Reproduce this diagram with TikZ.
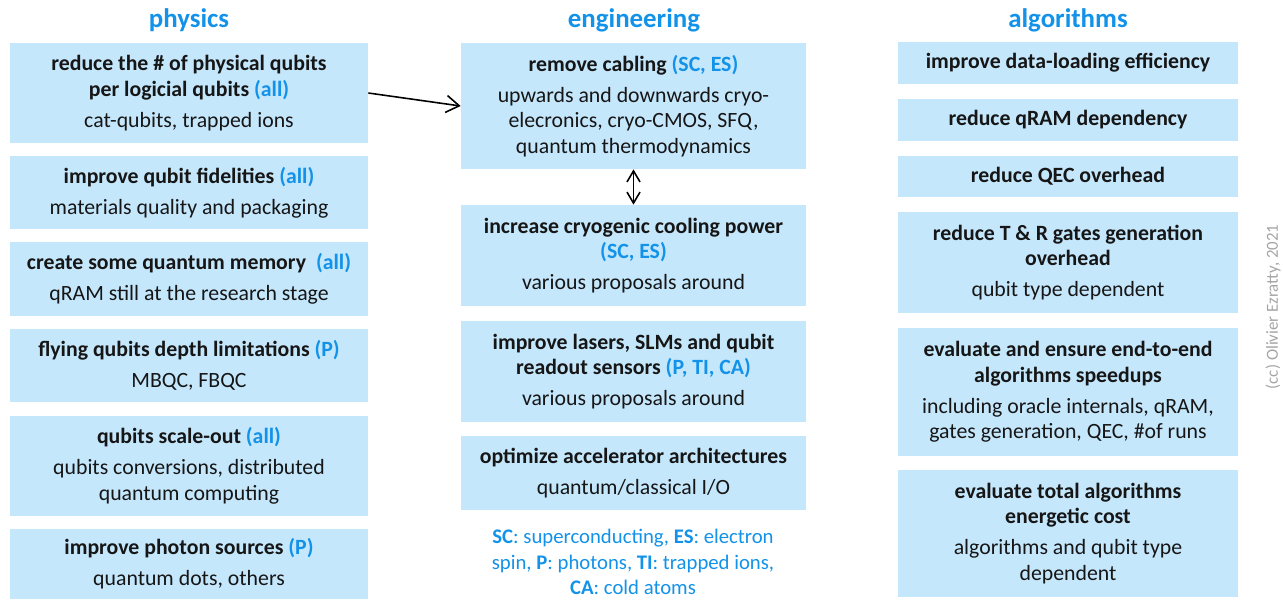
\documentclass[tikz,border=0pt]{standalone}
\usepackage{fontspec}
\setmainfont{Carlito}
\usetikzlibrary{arrows.meta}
\definecolor{QrBlue}{RGB}{18,146,232}
\definecolor{QrFill}{RGB}{197,231,252}
\definecolor{QrInk}{RGB}{22,22,22}
\definecolor{QrGray}{RGB}{165,165,165}
\newcommand{\qrtag}[1]{{\color{QrBlue}#1}}
\tikzset{
  qr/box/.style={
    fill=QrFill,
    draw=none,
    align=center,
    text=QrInk,
    inner sep=2pt,
    font={\fontsize{12.4}{14.6}\selectfont}
  },
  qr/phys/.style={qr/box, minimum width=7.16cm},
  qr/eng/.style={qr/box, minimum width=6.9cm},
  qr/alg/.style={qr/box, minimum width=6.8cm},
  qr/title/.style={font={\fontsize{15.3}{18}\selectfont\bfseries}, text=QrBlue, align=center},
  qr/legend/.style={font={\fontsize{11.8}{14.7}\selectfont}, text=QrBlue, align=center},
  qr/note/.style={font={\fontsize{9.6}{11}\selectfont}, text=QrGray, rotate=90},
  qr/arrow/.style={-{Straight Barb[length=2.6mm,width=3.4mm]}, line width=0.9pt, draw=black},
  qr/dblarrow/.style={{Straight Barb[length=2.2mm,width=2.6mm]}-{Straight Barb[length=2.2mm,width=2.6mm]}, line width=0.9pt, draw=black}
}
\begin{document}
\begin{tikzpicture}[x=1cm,y=1cm]
  \useasboundingbox (0,0) rectangle (25.66,-12);
  % column titles
  \node[qr/title] (tphys) at (3.78,-0.40) {physics};
  \node[qr/title] (teng) at (12.68,-0.40) {engineering};
  \node[qr/title] (talg) at (21.36,-0.40) {algorithms};

  % physics
  \node[qr/phys,minimum height=2.0cm] (p1) at (3.78,-1.86)
    {\textbf{reduce the \# of physical qubits}\\\textbf{per logicial qubits \qrtag{(all)}}\\[3pt]cat-qubits, trapped ions};
  \node[qr/phys,minimum height=1.46cm] (p2) at (3.78,-3.85)
    {\textbf{improve qubit fidelities \qrtag{(all)}}\\[3pt]materials quality and packaging};
  \node[qr/phys,minimum height=1.48cm] (p3) at (3.78,-5.58)
    {\textbf{create some quantum memory\ \ \qrtag{(all)}}\\[3pt]qRAM still at the research stage};
  \node[qr/phys,minimum height=1.46cm] (p4) at (3.78,-7.31)
    {\textbf{flying qubits depth limitations \qrtag{(P)}}\\[3pt]MBQC, FBQC};
  \node[qr/phys,minimum height=2.0cm] (p5) at (3.78,-9.32)
    {\textbf{qubits scale-out \qrtag{(all)}}\\[3pt]qubits conversions, distributed\\quantum computing};
  \node[qr/phys,minimum height=1.4cm] (p6) at (3.78,-11.28)
    {\textbf{improve photon sources \qrtag{(P)}}\\[3pt]quantum dots, others};

  % engineering
  \node[qr/eng,minimum height=2.52cm] (e1) at (12.67,-2.12)
    {\textbf{remove cabling \qrtag{(SC, ES)}}\\[3pt]upwards and downwards cryo-\\elecronics, cryo-CMOS, SFQ,\\quantum thermodynamics};
  \node[qr/eng,minimum height=2.02cm] (e2) at (12.67,-5.11)
    {\textbf{increase cryogenic cooling power}\\\textbf{\qrtag{(SC, ES)}}\\[3pt]various proposals around};
  \node[qr/eng,minimum height=2.02cm] (e3) at (12.67,-7.43)
    {\textbf{improve lasers, SLMs and qubit}\\\textbf{readout sensors \qrtag{(P, TI, CA)}}\\[3pt]various proposals around};
  \node[qr/eng,minimum height=1.48cm] (e4) at (12.67,-9.46)
    {\textbf{optimize accelerator architectures}\\[3pt]quantum/classical I/O};
  \node[qr/legend] (legend) at (12.66,-11.24)
    {\textbf{SC}: superconducting, \textbf{ES}: electron\\spin, \textbf{P}: photons, \textbf{TI}: trapped ions,\\\textbf{CA}: cold atoms};

  % algorithms
  \node[qr/alg,minimum height=0.84cm] (a1) at (21.36,-1.26) {\textbf{improve data-loading efficiency}};
  \node[qr/alg,minimum height=0.84cm] (a2) at (21.36,-2.40) {\textbf{reduce qRAM dependency}};
  \node[qr/alg,minimum height=0.82cm] (a3) at (21.36,-3.53) {\textbf{reduce QEC overhead}};
  \node[qr/alg,minimum height=2.02cm] (a4) at (21.36,-5.25)
    {\textbf{reduce T \& R gates generation}\\\textbf{overhead}\\[3pt]qubit type dependent};
  \node[qr/alg,minimum height=2.56cm] (a5) at (21.36,-7.84)
    {\textbf{evaluate and ensure end-to-end}\\\textbf{algorithms speedups}\\[3pt]including oracle internals, qRAM,\\gates generation, QEC, \#of runs};
  \node[qr/alg,minimum height=2.54cm] (a6) at (21.36,-10.67)
    {\textbf{evaluate total algorithms}\\\textbf{energetic cost}\\[3pt]algorithms and qubit type\\dependent};

  \node[qr/note] (credit) at (25.46,-6.14) {(cc) Olivier Ezratty, 2021};

  % links
  \draw[qr/arrow] (p1.east) -- (e1.west);
  \draw[qr/dblarrow] (e1.south) -- (e2.north);
\end{tikzpicture}
\end{document}
